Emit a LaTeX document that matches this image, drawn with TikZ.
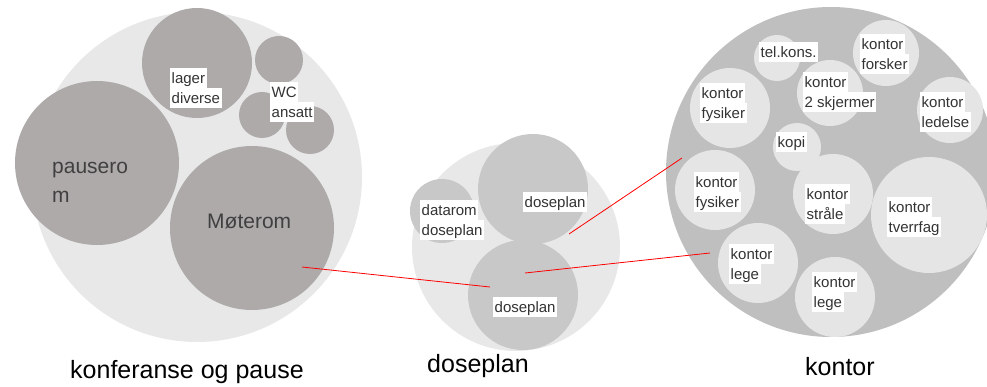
\documentclass[tikz,border=0pt]{standalone}
\usepackage{fontspec}
\setmainfont{Liberation Sans}
\usepackage{xcolor}
\usepackage{tikz}

\definecolor{ringlight}{HTML}{E8E8E8}
\definecolor{ringmid}{HTML}{BFBFBF}
\definecolor{roomwarm}{HTML}{AEAAAA}
\definecolor{roommid}{HTML}{C8C8C8}
\definecolor{roomlight}{HTML}{E5E5E5}
\definecolor{textdark}{HTML}{333333}
\definecolor{textwarm}{HTML}{404040}

\newcommand{\wline}[1]{{\setlength{\fboxsep}{0pt}\colorbox{white}{\rule[-5pt]{0pt}{20pt}\hspace{1.5pt}#1\hspace{1.5pt}}}}

\begin{document}
\begin{tikzpicture}[x=1pt, y=-1pt,
disc/.style={circle, draw=none, inner sep=0pt},
roomtext/.style={anchor=north west, inner sep=0pt, align=left, font=\fontsize{15}{20}\selectfont, text=textdark},
bigtext/.style={inner sep=0pt, align=left, font=\fontsize{21}{29}\selectfont, text=textwarm},
title/.style={anchor=base west, inner sep=0pt, font=\fontsize{25}{30}\selectfont},
link/.style={red, line width=0.8pt}
]
\useasboundingbox (0,0) rectangle (987,387);

\node[disc, fill=ringlight, minimum size=330pt](konf) at (197,177){};
\node[disc, fill=roomwarm, minimum size=164pt](pause) at (97,163){};
\node[disc, fill=roomwarm, minimum size=164pt](mote) at (252,228){};
\node[disc, fill=roomwarm, minimum size=110pt](lager) at (197,63){};
\node[disc, fill=roomwarm, minimum size=48pt](wc_a) at (279,60){};
\node[disc, fill=roomwarm, minimum size=46pt](wc_b) at (262,115){};
\node[disc, fill=roomwarm, minimum size=48pt](wc_c) at (310,130){};

\node[disc, fill=ringlight, minimum size=208pt](dose) at (516,247){};
\node[disc, fill=roommid, minimum size=110pt](dose_up) at (533,189){};
\node[disc, fill=roommid, minimum size=110pt](dose_low) at (523,295){};
\node[disc, fill=roommid, minimum size=64pt](datarom) at (442,211){};

\node[disc, fill=ringmid, minimum size=330pt](kontor) at (831,172){};
\node[disc, fill=roomlight, minimum size=46pt](telkons) at (777,58){};
\node[disc, fill=roomlight, minimum size=66pt](forsker) at (886,53){};
\node[disc, fill=roomlight, minimum size=66pt](skjermer) at (830,93){};
\node[disc, fill=roomlight, minimum size=80pt](fys_a) at (730,108){};
\node[disc, fill=roomlight, minimum size=66pt](ledelse) at (950,110){};
\node[disc, fill=roomlight, minimum size=48pt](kopi) at (797,147){};
\node[disc, fill=roomlight, minimum size=80pt](fys_b) at (715,190){};
\node[disc, fill=roomlight, minimum size=80pt](straale) at (833,194){};
\node[disc, fill=roomlight, minimum size=116pt](tverrfag) at (929,215){};
\node[disc, fill=roomlight, minimum size=80pt](lege_a) at (758,263){};
\node[disc, fill=roomlight, minimum size=80pt](lege_b) at (835,297){};

\coordinate (mote_end) at (302,267);
\coordinate (dose_low_a) at (490,287);
\coordinate (dose_low_b) at (525,273);
\coordinate (dose_up_end) at (569,234);
\coordinate (kontor_a) at (710,253);
\coordinate (kontor_b) at (682,158);

\draw[link] (mote_end) -- (dose_low_a);
\draw[link] (dose_low_b) -- (kontor_a);
\draw[link] (dose_up_end) -- (kontor_b);

\node[roomtext](lager_txt) at (170,68){\wline{lager}\\\wline{diverse}};
\node[roomtext](wc_txt) at (270,82){\wline{WC}\\\wline{ansatt}};
\node[bigtext, anchor=north west](pause_txt) at (52,153){\strut pausero\\m};
\node[bigtext, anchor=base west](mote_txt) at (207,229){Møterom};

\node[roomtext](datarom_txt) at (420,200){\wline{datarom}\\\wline{doseplan}};
\node[roomtext](dose_up_txt) at (523,192){\wline{doseplan}};
\node[roomtext](dose_low_txt) at (493,297){\wline{doseplan}};

\node[roomtext](telkons_txt) at (759,42){\wline{tel.kons.}};
\node[roomtext](forsker_txt) at (860,34){\wline{kontor}\\\wline{forsker}};
\node[roomtext](skjermer_txt) at (803,72){\wline{kontor}\\\wline{2 skjermer}};
\node[roomtext](fys_a_txt) at (700,83){\wline{kontor}\\\wline{fysiker}};
\node[roomtext](ledelse_txt) at (920,92){\wline{kontor}\\\wline{ledelse}};
\node[roomtext](kopi_txt) at (776,132){\wline{kopi}};
\node[roomtext](fys_b_txt) at (694,172){\wline{kontor}\\\wline{fysiker}};
\node[roomtext](straale_txt) at (805,184){\wline{kontor}\\\wline{stråle}};
\node[roomtext](tverrfag_txt) at (887,197){\wline{kontor}\\\wline{tverrfag}};
\node[roomtext](lege_a_txt) at (729,244){\wline{kontor}\\\wline{lege}};
\node[roomtext](lege_b_txt) at (812,272){\wline{kontor}\\\wline{lege}};

\node[title](konf_title) at (70,378){konferanse og pause};
\node[title](dose_title) at (427,372){doseplan};
\node[title](kontor_title) at (805,375){kontor};

\end{tikzpicture}
\end{document}
